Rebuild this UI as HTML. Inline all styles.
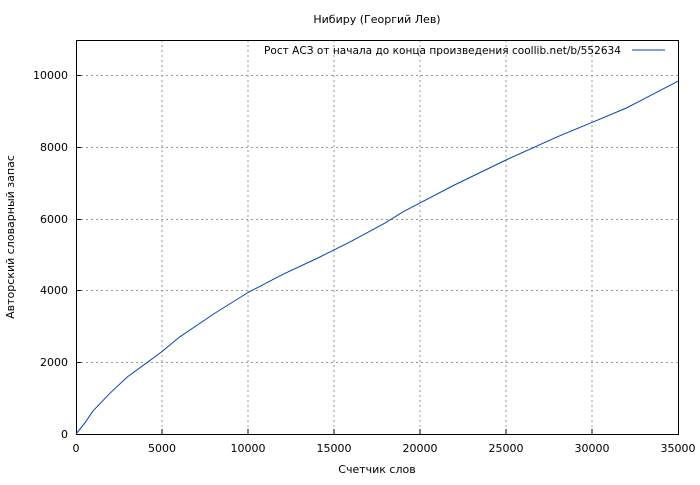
<!DOCTYPE html>
<html><head><meta charset="utf-8"><style>
html,body{margin:0;padding:0;background:#fff;}
svg text{font-family:"DejaVu Sans","Liberation Sans",sans-serif;font-size:11px;fill:#000;}
</style></head><body>
<svg width="700" height="480" viewBox="0 0 700 480">
<rect width="700" height="480" fill="#fff"/>
<g stroke="#999" stroke-width="1" stroke-dasharray="2,3">
<line x1="162" y1="40" x2="162" y2="434"/><line x1="248" y1="40" x2="248" y2="434"/>
<line x1="334" y1="40" x2="334" y2="434"/><line x1="420" y1="40" x2="420" y2="434"/>
<line x1="506" y1="40" x2="506" y2="434"/><line x1="592" y1="40" x2="592" y2="434"/>
<line x1="76" y1="362.5" x2="678" y2="362.5"/><line x1="76" y1="290.5" x2="678" y2="290.5"/>
<line x1="76" y1="219.5" x2="678" y2="219.5"/><line x1="76" y1="147.5" x2="678" y2="147.5"/>
<line x1="76" y1="75.5" x2="678" y2="75.5"/>
</g>
<rect x="76.5" y="40.5" width="602" height="394" fill="none" stroke="#000"/>
<g stroke="#000">
<line x1="162" y1="434" x2="162" y2="429"/><line x1="248" y1="434" x2="248" y2="429"/><line x1="334" y1="434" x2="334" y2="429"/><line x1="420" y1="434" x2="420" y2="429"/><line x1="506" y1="434" x2="506" y2="429"/><line x1="592" y1="434" x2="592" y2="429"/>
<line x1="76" y1="362.5" x2="81" y2="362.5"/><line x1="76" y1="290.5" x2="81" y2="290.5"/><line x1="76" y1="219.5" x2="81" y2="219.5"/><line x1="76" y1="147.5" x2="81" y2="147.5"/><line x1="76" y1="75.5" x2="81" y2="75.5"/>
</g>
<g text-anchor="middle">
<text x="76" y="452">0</text><text x="162" y="452">5000</text><text x="248" y="452">10000</text><text x="334" y="452">15000</text><text x="420" y="452">20000</text><text x="506" y="452">25000</text><text x="592" y="452">30000</text><text x="678" y="452">35000</text>
<text x="377" y="473">Счетчик слов</text>
<text x="377" y="23">Нибиру (Георгий Лев)</text>
</g>
<g text-anchor="end">
<text x="68" y="438">0</text><text x="68" y="366">2000</text><text x="68" y="294">4000</text><text x="68" y="223">6000</text><text x="68" y="151">8000</text><text x="68" y="79">10000</text>
</g>
<text x="264" y="54" textLength="357" lengthAdjust="spacingAndGlyphs">Рост АСЗ от начала до конца произведения coollib.net/b/552634</text>
<text transform="translate(14,237) rotate(-90)" text-anchor="middle">Авторский словарный запас</text>
<line x1="632" y1="50" x2="665" y2="50" stroke="#0046b4"/>
<polyline fill="none" stroke="#0046b4" stroke-width="1" points="76,434 84.6,423.3 93.2,410.7 110.4,392.8 127.6,376.7 144.8,364.2 162,351.6 179.2,337.3 213.6,314 248,292.5 282.4,274.6 316.8,258.5 351.2,241.3 385.6,222.7 402.8,211.9 420,202.9 454.4,185 506,160 557.6,136.7 592,122.4 626.4,108 678,81.2"/>
</svg>
</body></html>
